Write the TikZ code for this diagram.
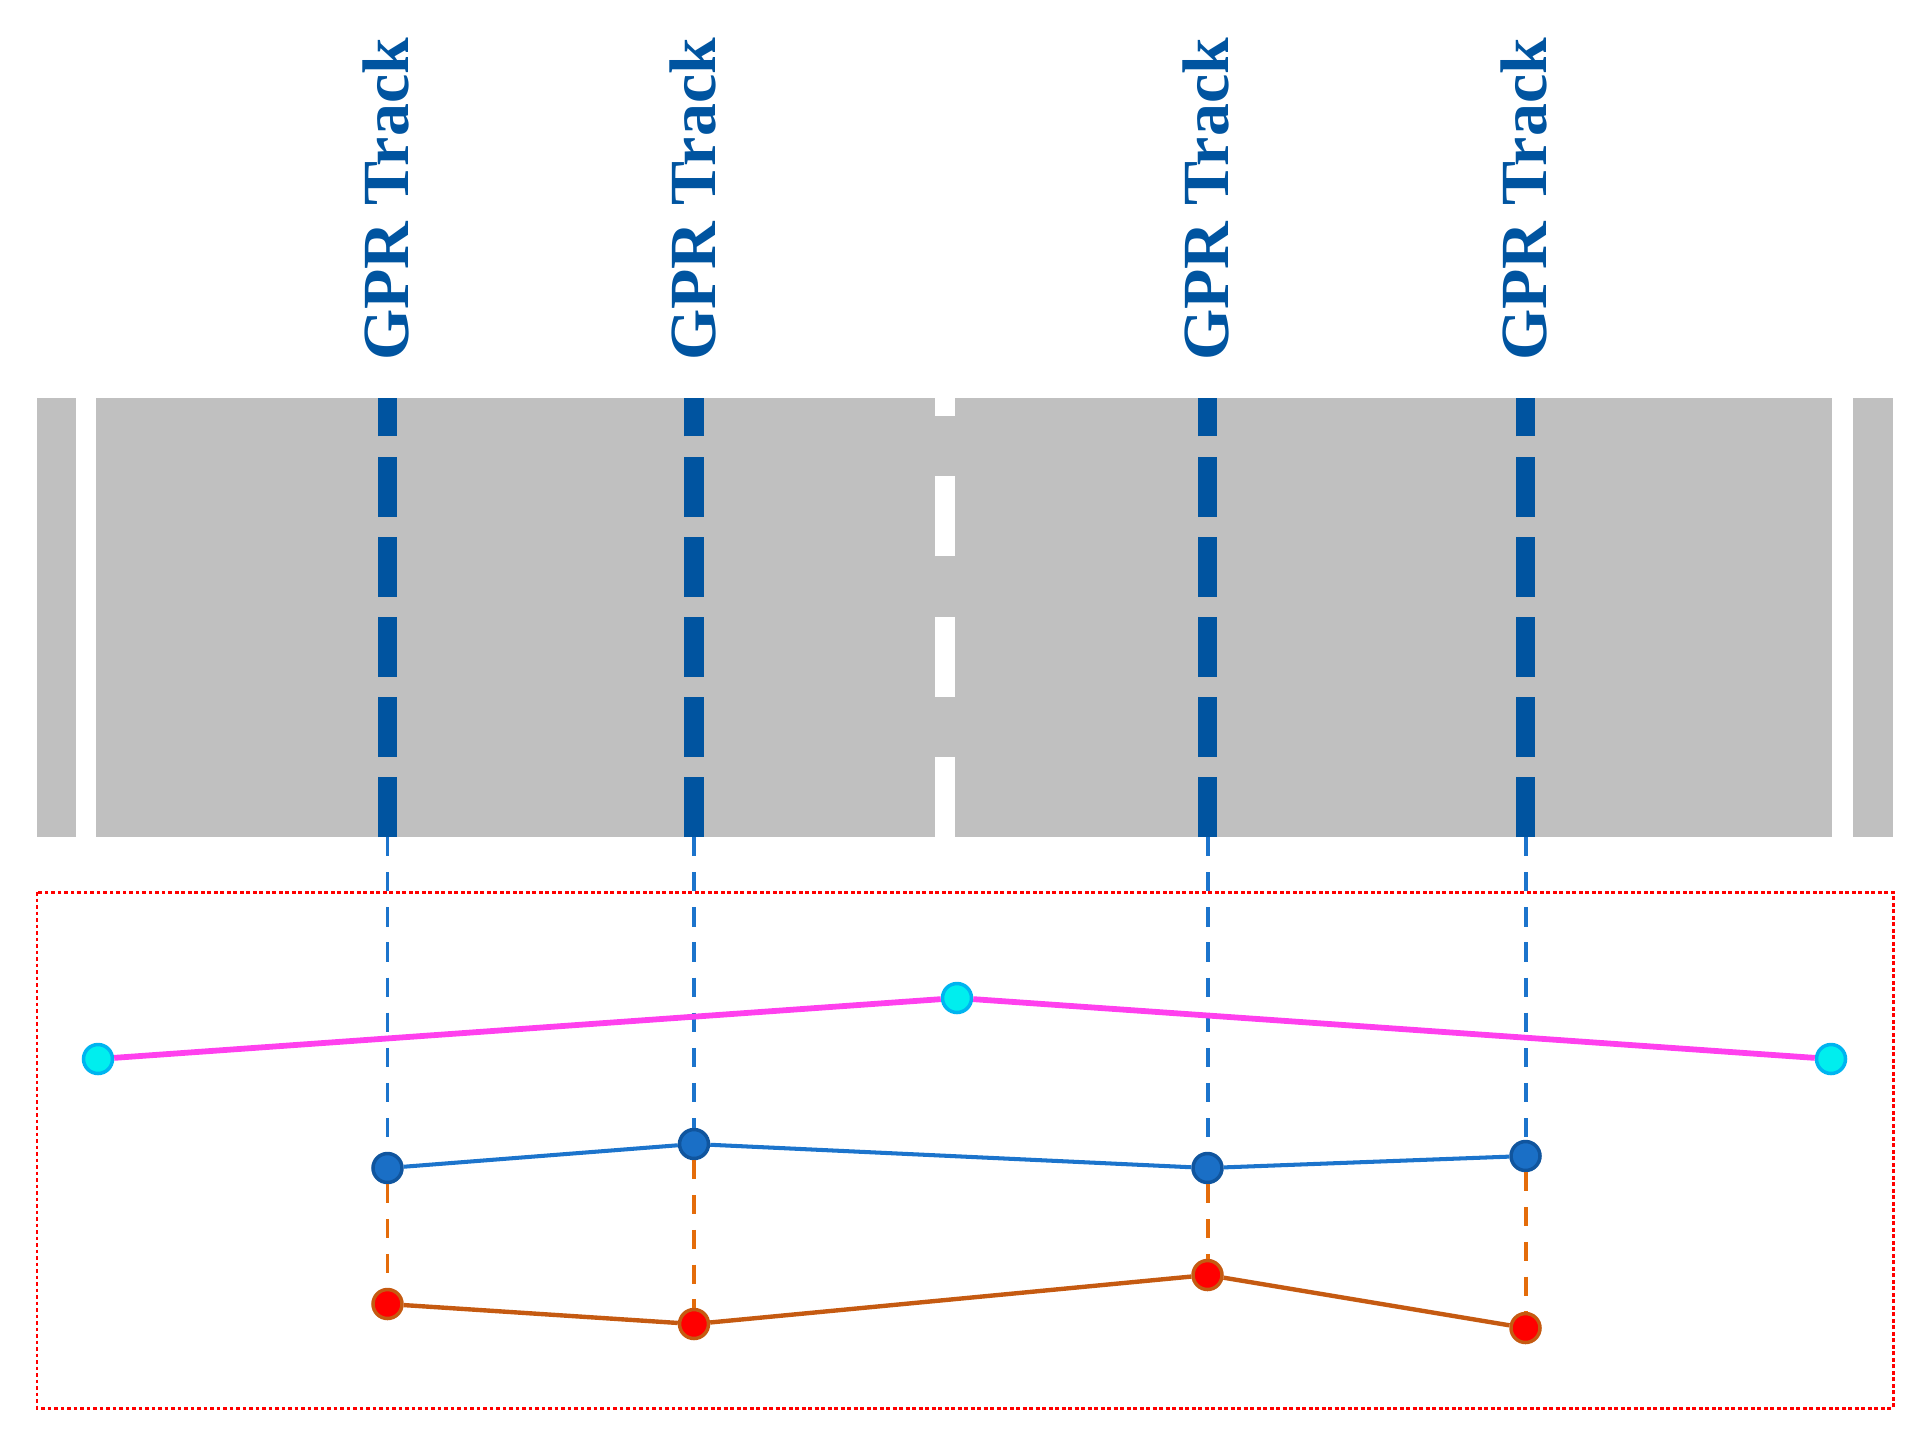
\documentclass[tikz,border=0pt]{standalone}
\usepackage{fontspec}
\setmainfont{Liberation Serif}
\definecolor{roadgray}{HTML}{C0C0C0}
\definecolor{trackblue}{HTML}{0054A0}
\definecolor{lineblue}{HTML}{1C74CC}
\definecolor{ptblue}{HTML}{1A6FC6}
\definecolor{ptblueb}{HTML}{10559E}
\definecolor{cyanfill}{HTML}{00EEEE}
\definecolor{cyanbord}{HTML}{00B4F0}
\definecolor{pinkline}{HTML}{FF40EE}
\definecolor{orangesolid}{HTML}{C55A11}
\definecolor{orangedash}{HTML}{E46C0A}
\tikzset{
  roadtrack/.style={trackblue, line width=11.34pt, dash pattern=on 34pt off 11.6pt},
  centerline/.style={white, line width=11.34pt, dash pattern=on 45.6pt off 34.3pt},
  label/.style={rotate=90, anchor=base west, inner sep=0pt, text=trackblue,
     font=\fontsize{37.5}{45}\selectfont\bfseries},
  cpt/.style={circle, draw=cyanbord, fill=cyanfill, line width=2pt, minimum size=0.58cm, inner sep=0pt},
  bpt/.style={circle, draw=ptblueb, fill=ptblue, line width=2pt, minimum size=0.58cm, inner sep=0pt},
  rpt/.style={circle, draw=orangesolid, fill=red, line width=2pt, minimum size=0.58cm, inner sep=0pt},
  bdash/.style={lineblue, line width=2.27pt, dash pattern=on 11pt off 9pt},
  odash/.style={orangedash, line width=2.27pt, dash pattern=on 10.8pt off 9pt},
}
\begin{document}
\begin{tikzpicture}[x=0.02cm, y=-0.02cm]
\useasboundingbox (0,0) rectangle (1931,1451);
% road
\fill[roadgray] (37,398) rectangle (1893,837);
\fill[white] (76,398) rectangle (96,837);
\fill[white] (1832,398) rectangle (1853,837);
\coordinate (c0) at (945,837);
\coordinate (c1) at (945,398);
\draw[centerline] (c0) -- (c1);
% track coordinates
\foreach \n/\x in {1/387.5, 2/694, 3/1207.5, 4/1525.5} {
  \coordinate (t\n) at (\x,837);
  \coordinate (u\n) at (\x,398);
  \draw[roadtrack] (t\n) -- (u\n);
  \node[label] (lab\n) at (\x+21,361) {GPR Track};
}
% red dotted frame
\draw[red, line width=1.7pt, dash pattern=on 2.2pt off 1.5pt] (37,892) rectangle (1893,1408);
% points
\node[cpt] (p1) at (98,1059) {};
\node[cpt] (p2) at (957,998) {};
\node[cpt] (p3) at (1831,1059) {};
\node[bpt] (b1) at (387.5,1168) {};
\node[bpt] (b2) at (694,1144) {};
\node[bpt] (b3) at (1207.5,1168) {};
\node[bpt] (b4) at (1525.5,1156) {};
\node[rpt] (r1) at (387.5,1304) {};
\node[rpt] (r2) at (694,1324) {};
\node[rpt] (r3) at (1207.5,1275) {};
\node[rpt] (r4) at (1525.5,1328) {};
% dashed verticals
\foreach \n in {1,2,3,4} {
  \draw[bdash] (t\n) -- (b\n);
  \draw[odash] (b\n) -- (r\n);
}
\draw[pinkline, line width=3.3pt] (p1) -- (p2) -- (p3);
\draw[lineblue, line width=2.3pt] (b1) -- (b2) -- (b3) -- (b4);
\draw[orangesolid, line width=2.5pt] (r1) -- (r2) -- (r3) -- (r4);
\end{tikzpicture}
\end{document}
